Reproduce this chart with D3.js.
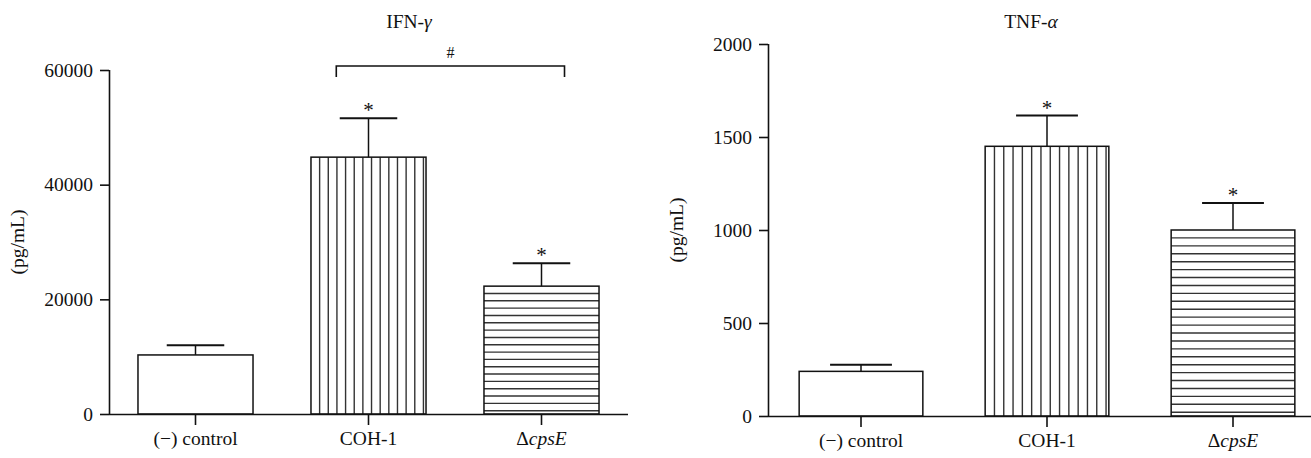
<!DOCTYPE html>
<html>
<head>
<meta charset="utf-8">
<script src="https://cdn.jsdelivr.net/npm/d3@7"></script>
<style>
  body { margin: 0; background: #fff; }
  svg { display: block; font-family: "Liberation Serif", "DejaVu Serif", serif; }
  svg text { font-family: "Liberation Serif", "DejaVu Serif", serif; }
</style>
</head>
<body>
<svg id="chart" width="1311" height="458"></svg>
<script>
/* global d3 */
// groups shared by both panels
var groups = ['(−) control', 'COH-1', 'ΔcpsE'];
var hatch = ['none', 'vertical', 'horizontal'];

// IFN-gamma panel
var ifnMeans = [10300, 44800, 22300];
var ifnSem = [1700, 6800, 4000];
var ifnStars = [false, true, true];
var ifnTicks = [0, 20000, 40000, 60000];

// TNF-alpha panel
var tnfMeans = [240, 1450, 1000];
var tnfSem = [35, 165, 145];
var tnfStars = [false, true, true];
var tnfTicks = [0, 500, 1000, 1500, 2000];

var svg = d3.select('#chart');
var fs = 19.5;

function drawPanel(opt) {
  let g = svg.append('g');

  let x = d3.scaleBand()
    .domain(groups)
    .range([opt.left, opt.right])
    .paddingInner(0.335)
    .paddingOuter(0.1675);
  let y = d3.scaleLinear()
    .domain([0, opt.max])
    .range([opt.bottom, opt.top]);
  let bw = x.bandwidth();

  let rows = groups.map((k, i) => ({
    key: k, mean: opt.means[i], sem: opt.sem[i], star: opt.stars[i], hatch: hatch[i]
  }));

  // bars
  let bars = g.selectAll('g.bar')
    .data(rows)
    .enter()
    .append('g')
    .attr('class', 'bar');

  bars.append('rect')
    .attr('x', d => x(d.key))
    .attr('y', d => y(d.mean))
    .attr('width', bw)
    .attr('height', d => y(0) - y(d.mean))
    .attr('fill', 'white');

  // hatching, drawn as plain lines inside each bar
  bars.each(function(d) {
    let that = d3.select(this);
    let x0 = x(d.key), x1 = x0 + bw;
    let y0 = y(d.mean), y1 = y(0);
    if (d.hatch == 'vertical') {
      let step = bw / 13.3;
      that.selectAll('line.h')
        .data(d3.range(x0 + step, x1 - 1, step))
        .enter().append('line')
        .attr('x1', v => v).attr('x2', v => v)
        .attr('y1', y0).attr('y2', y1)
        .attr('stroke', '#333').attr('stroke-width', 1.4);
    }
    else if (d.hatch == 'horizontal') {
      let step = (opt.bottom - opt.top) * 0.0213;
      that.selectAll('line.h')
        .data(d3.range(y0 + step, y1 - 3, step))
        .enter().append('line')
        .attr('x1', x0).attr('x2', x1)
        .attr('y1', v => v).attr('y2', v => v)
        .attr('stroke', '#333').attr('stroke-width', 1.4);
    }
  });

  bars.append('rect')
    .attr('x', d => x(d.key))
    .attr('y', d => y(d.mean))
    .attr('width', bw)
    .attr('height', d => y(0) - y(d.mean))
    .attr('fill', 'none')
    .attr('stroke', '#111')
    .attr('stroke-width', 1.5);

  // error bars (upper only)
  bars.append('line')
    .attr('x1', d => x(d.key) + bw / 2)
    .attr('x2', d => x(d.key) + bw / 2)
    .attr('y1', d => y(d.mean))
    .attr('y2', d => y(d.mean + d.sem))
    .attr('stroke', '#111')
    .attr('stroke-width', 1.5);
  bars.append('line')
    .attr('x1', d => x(d.key) + bw / 4)
    .attr('x2', d => x(d.key) + bw * 3 / 4)
    .attr('y1', d => y(d.mean + d.sem))
    .attr('y2', d => y(d.mean + d.sem))
    .attr('stroke', '#111')
    .attr('stroke-width', 2);

  bars.filter(d => d.star)
    .append('text')
    .attr('x', d => x(d.key) + bw / 2)
    .attr('y', d => y(d.mean + d.sem) - 1)
    .attr('text-anchor', 'middle')
    .attr('font-size', 21)
    .attr('fill', '#111')
    .text('*');

  // axes
  let yAxis = g.append('g')
    .attr('transform', 'translate(' + opt.left + ',0)')
    .call(d3.axisLeft(y).tickValues(opt.ticks).tickSize(9).tickPadding(7).tickFormat(d3.format('d')));
  let xAxis = g.append('g')
    .attr('transform', 'translate(0,' + opt.bottom + ')')
    .call(d3.axisBottom(x).tickSize(11).tickPadding(6).tickSizeOuter(0));

  [yAxis, xAxis].forEach(a => {
    a.attr('font-family', null).attr('font-size', fs);
    a.select('.domain').attr('stroke', '#111').attr('stroke-width', 1.6);
    a.selectAll('.tick line').attr('stroke', '#111').attr('stroke-width', 1.6);
    a.selectAll('.tick text')
      .attr('fill', '#111')
      .attr('font-size', fs);
  });
  // replace domains so they do not draw outer ticks
  yAxis.select('.domain').attr('d', 'M0.5,' + opt.top + 'V' + opt.bottom);
  xAxis.select('.domain').attr('d', 'M' + opt.left + ',0.5H' + opt.right);

  // italic gene name for the knockout label
  xAxis.selectAll('.tick text')
    .filter(d => d == 'ΔcpsE')
    .text('Δ')
    .append('tspan')
    .attr('font-style', 'italic')
    .text('cpsE');

  // title
  let title = g.append('text')
    .attr('x', opt.titleX)
    .attr('y', 28)
    .attr('text-anchor', 'middle')
    .attr('font-size', fs)
    .attr('fill', '#111')
    .text(opt.title[0]);
  title.append('tspan').attr('font-style', 'italic').text(opt.title[1]);

  // y label
  g.append('text')
    .attr('transform', 'translate(' + opt.labelX + ',' + ((opt.top + opt.bottom) / 2) + ') rotate(-90)')
    .attr('text-anchor', 'middle')
    .attr('font-size', fs)
    .attr('fill', '#111')
    .text('(pg/mL)');

  if (opt.bracket) {
    let b = opt.bracket;
    let bx0 = x(groups[b.from]) + bw * 0.22;
    let bx1 = x(groups[b.to]) + bw * 0.7;
    let by = y(b.value);
    g.append('path')
      .attr('d', 'M' + bx0 + ',' + (by + 11) + 'V' + by + 'H' + bx1 + 'V' + (by + 11))
      .attr('fill', 'none')
      .attr('stroke', '#111')
      .attr('stroke-width', 1.6);
    g.append('text')
      .attr('x', (bx0 + bx1) / 2)
      .attr('y', by - 8)
      .attr('text-anchor', 'middle')
      .attr('font-size', 16)
      .attr('fill', '#111')
      .text(b.label);
  }
}

drawPanel({
  means: ifnMeans, sem: ifnSem, stars: ifnStars, ticks: ifnTicks, max: 60000,
  left: 109, right: 628, top: 70, bottom: 414,
  title: ['IFN-', 'γ'], titleX: 409, labelX: 24,
  bracket: { from: 1, to: 2, value: 60700, label: '#' }
});
drawPanel({
  means: tnfMeans, sem: tnfSem, stars: tnfStars, ticks: tnfTicks, max: 2000,
  left: 768, right: 1326, top: 44, bottom: 416,
  title: ['TNF-', 'α'], titleX: 1031, labelX: 683
});
</script>
</body>
</html>
